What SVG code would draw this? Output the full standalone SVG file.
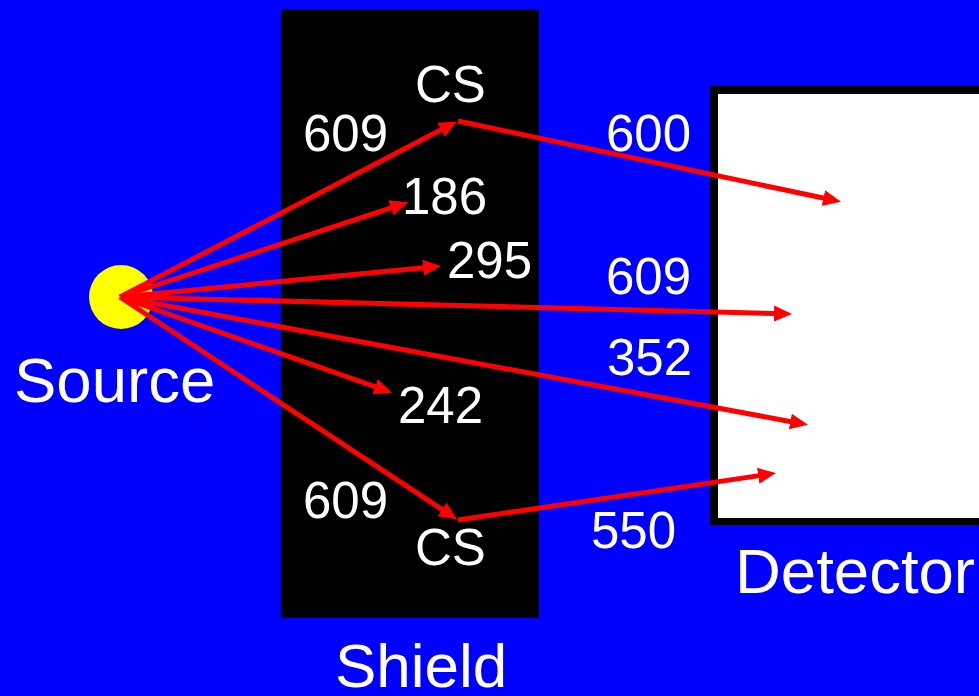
<svg xmlns="http://www.w3.org/2000/svg" width="979" height="696" viewBox="0 0 979 696">
<style>
text{font-family:"Liberation Sans",Arial,sans-serif;fill:#fff}
.n{font-size:51px}
.l{font-size:63px}
.ray{stroke:#ff0000;stroke-width:5;fill:none;marker-end:url(#ah)}
</style>
<defs>
<marker id="ah" markerUnits="userSpaceOnUse" markerWidth="20" markerHeight="18" viewBox="0 -9 20 18" refX="1" refY="0" orient="auto">
<path d="M0,-8 L18,0 L0,8 z" fill="#ff0000"/>
</marker>
</defs>
<rect x="0" y="0" width="979" height="696" fill="#0000ff"/>
<g id="shield">
<rect x="281" y="9" width="258" height="609" fill="#000"/>
<text class="l" x="335" y="687" style="font-size:62px">Shield</text>
</g>
<g id="detector">
<rect x="710" y="86" width="300" height="439" fill="#000"/>
<rect x="718" y="94" width="300" height="424" fill="#fff"/>
<text class="l" x="735" y="593" style="font-size:63.5px">Detector</text>
</g>
<g id="source">
<circle cx="121" cy="297" r="32" fill="#ffff00"/>
<text class="l" x="14" y="402" style="font-size:63.5px">Source</text>
</g>
<g id="labels">
<text class="n" x="415" y="102">CS</text>
<text class="n" x="303" y="151">609</text>
<text class="n" x="402" y="214">186</text>
<text class="n" x="447" y="278">295</text>
<text class="n" x="398" y="423">242</text>
<text class="n" x="303" y="518">609</text>
<text class="n" x="415" y="565">CS</text>
<text class="n" x="606" y="151">600</text>
<text class="n" x="606" y="294">609</text>
<text class="n" x="607" y="375">352</text>
<text class="n" x="591" y="548">550</text>
</g>
<g id="connectors">
<line class="ray" x1="120" y1="297" x2="442" y2="129.3"/>
<line class="ray" x1="458" y1="121" x2="824.4" y2="198.3"/>
<line class="ray" x1="120" y1="297" x2="391.9" y2="207.6"/>
<line class="ray" x1="120" y1="297" x2="424.1" y2="267.7"/>
<line class="ray" x1="120" y1="297" x2="775" y2="313.5"/>
<line class="ray" x1="120" y1="297" x2="791.3" y2="421.7"/>
<line class="ray" x1="120" y1="297" x2="376" y2="387"/>
<line class="ray" x1="120" y1="297" x2="443" y2="510.1"/>
<line class="ray" x1="458" y1="520" x2="759.2" y2="475.6"/>
</g>
</svg>
